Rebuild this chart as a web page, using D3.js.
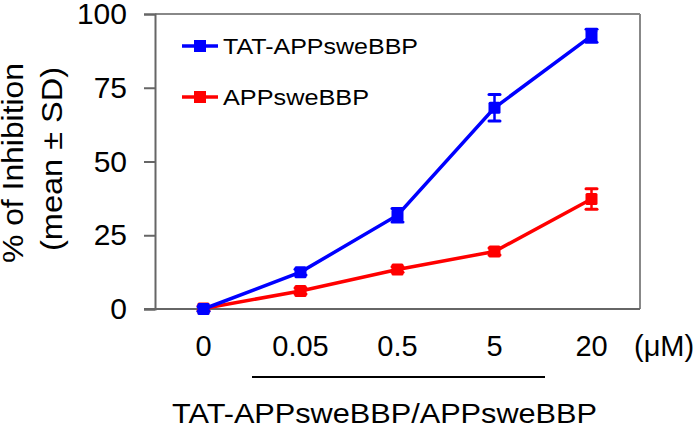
<!DOCTYPE html>
<html>
<head>
<meta charset="utf-8">
<script src="https://cdn.jsdelivr.net/npm/d3@7"></script>
<style>
  html, body { margin: 0; padding: 0; background: #fff; }
  svg { display: block; font-family: Arial, "Liberation Sans", sans-serif; }
</style>
</head>
<body>
<svg id="chart" width="700" height="429"></svg>
<script>
const categories = ["0", "0.05", "0.5", "5", "20"];
const tatMean = [0, 12.5, 31.8, 68.2, 92.6];
const tatSD   = [0.8, 1.0, 2.3, 4.5, 2.2];
const appMean = [0.2, 6.1, 13.4, 19.5, 37.3];
const appSD   = [0.8, 1.0, 0.9, 1.2, 3.5];
const yTicks  = [0, 25, 50, 75, 100];
const seriesNames = ["TAT-APPsweBBP", "APPsweBBP"];
const seriesColors = ["#0000ff", "#ff0000"];

const svg = d3.select("#chart");
const pLeft = 155, pRight = 640, pTop = 14, pBottom = 309;

const x = d3.scaleBand().domain(categories).range([pLeft, pRight]);
const y = d3.scaleLinear().domain([0, 100]).range([pBottom, pTop]);

// frame top/right
svg.append("line").attr("x1", pLeft).attr("x2", pRight).attr("y1", pTop).attr("y2", pTop)
  .attr("stroke", "#888").attr("stroke-width", 2);
svg.append("line").attr("x1", pRight).attr("x2", pRight).attr("y1", pTop).attr("y2", pBottom)
  .attr("stroke", "#888").attr("stroke-width", 2);

// y axis
const yAxis = d3.axisLeft(y).tickValues(yTicks).tickSize(11).tickPadding(17).tickFormat(d3.format("d"));
const gy = svg.append("g").attr("transform", `translate(${pLeft},0)`).call(yAxis);
gy.select(".domain").attr("stroke", "#666").attr("stroke-width", 2);
gy.selectAll(".tick line").attr("stroke", "#666").attr("stroke-width", 2);
gy.selectAll(".tick text").attr("font-size", 30).attr("fill", "#000")
  .attr("font-family", "Arial, 'Liberation Sans', sans-serif");

// x axis
const xAxis = d3.axisBottom(x).tickSize(0).tickPadding(26);
const gx = svg.append("g").attr("transform", `translate(0,${pBottom})`).call(xAxis);
gx.select(".domain").remove();
gx.append("line").attr("x1", pLeft - 11).attr("x2", pRight).attr("y1", 0).attr("y2", 0)
  .attr("stroke", "#666").attr("stroke-width", 2);
gx.selectAll(".tick text").attr("font-size", 29).attr("fill", "#000")
  .attr("font-family", "Arial, 'Liberation Sans', sans-serif");

svg.append("text").attr("x", 634).attr("y", 356).attr("font-size", 29).text("(μM)");

// underline & x title
svg.append("line").attr("x1", 252).attr("x2", 545).attr("y1", 377).attr("y2", 377)
  .attr("stroke", "#000").attr("stroke-width", 2);
svg.append("text").attr("x", 172).attr("y", 423).attr("font-size", 28)
  .attr("textLength", 425).attr("lengthAdjust", "spacingAndGlyphs")
  .text("TAT-APPsweBBP/APPsweBBP");

// y title
const yt = svg.append("g").attr("transform", "translate(0,163) rotate(-90)");
yt.append("text").attr("x", 0).attr("y", 23).attr("text-anchor", "middle").attr("font-size", 30)
  .attr("textLength", 200).attr("lengthAdjust", "spacingAndGlyphs").text("% of Inhibition");
yt.append("text").attr("x", 4).attr("y", 62).attr("text-anchor", "middle").attr("font-size", 30)
  .attr("textLength", 184).attr("lengthAdjust", "spacingAndGlyphs").text("(mean ± SD)");

// series
const series = [
  { name: seriesNames[0], color: seriesColors[0], mean: tatMean, sd: tatSD },
  { name: seriesNames[1], color: seriesColors[1], mean: appMean, sd: appSD }
];
const cx = c => x(c) + x.bandwidth() / 2;

series.slice().reverse().forEach(s => {
  const pts = categories.map((c, i) => ({ c, m: s.mean[i], sd: s.sd[i] }));
  const g = svg.append("g");
  g.append("path").datum(pts)
    .attr("d", d3.line().x(d => cx(d.c)).y(d => y(d.m)))
    .attr("fill", "none").attr("stroke", s.color).attr("stroke-width", 3.5);
  const eb = g.selectAll(".eb").data(pts).enter().append("g");
  eb.append("line").attr("x1", d => cx(d.c)).attr("x2", d => cx(d.c))
    .attr("y1", d => y(d.m - d.sd)).attr("y2", d => y(d.m + d.sd))
    .attr("stroke", s.color).attr("stroke-width", 2.5);
  ["-", "+"].forEach(sign => {
    eb.append("line").attr("x1", d => cx(d.c) - 5.5).attr("x2", d => cx(d.c) + 5.5)
      .attr("y1", d => y(sign === "-" ? d.m - d.sd : d.m + d.sd))
      .attr("y2", d => y(sign === "-" ? d.m - d.sd : d.m + d.sd))
      .attr("stroke", s.color).attr("stroke-width", 3).attr("stroke-linecap", "round");
  });
  g.selectAll("rect").data(pts).enter().append("rect")
    .attr("x", d => cx(d.c) - 6).attr("y", d => y(d.m) - 6)
    .attr("width", 12).attr("height", 12).attr("rx", 1.5).attr("fill", s.color);
});

// legend
const legY = [46, 97];
series.forEach((s, i) => {
  const ly = legY[i];
  svg.append("line").attr("x1", 182).attr("x2", 218).attr("y1", ly).attr("y2", ly)
    .attr("stroke", s.color).attr("stroke-width", 3.5);
  svg.append("rect").attr("x", 194).attr("y", ly - 6).attr("width", 12).attr("height", 12).attr("fill", s.color);
  svg.append("text").attr("x", 223).attr("y", ly + 8).attr("font-size", 22)
    .attr("textLength", i === 0 ? 195 : 146).attr("lengthAdjust", "spacingAndGlyphs")
    .text(s.name);
});
</script>
</body>
</html>
